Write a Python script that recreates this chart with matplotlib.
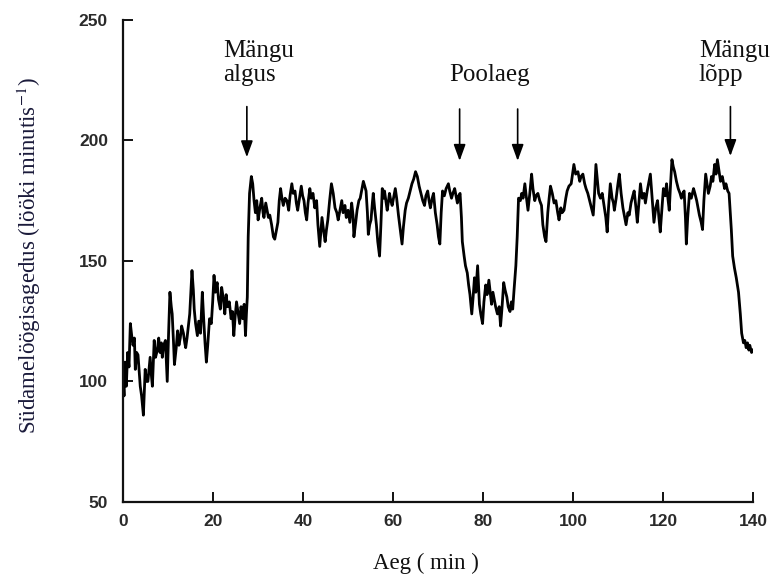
import matplotlib
matplotlib.use("Agg")
import matplotlib.pyplot as plt

# ---- data ----
time_min = [
    0.0, 0.2, 0.4, 0.7, 1.0, 1.3, 1.6, 1.9, 2.2, 2.5, 2.7, 3.0, 3.3, 3.6, 3.8, 4.1, 4.5, 4.7, 4.9, 5.2,
    5.5, 5.8, 6.0, 6.3, 6.5, 6.9, 7.2, 7.6, 7.9, 8.2, 8.5, 8.7, 9.0, 9.4, 9.6, 9.8, 10.1, 10.4, 10.7, 10.9,
    11.2, 11.4, 11.8, 12.1, 12.4, 12.7, 13.0, 13.4, 13.7, 13.9, 14.2, 14.5, 14.8, 15.0, 15.3, 15.6, 15.8, 16.1, 16.5, 16.8,
    17.2, 17.6, 17.9, 18.2, 18.5, 18.8, 19.2, 19.6, 19.9, 20.2, 20.5, 20.9, 21.2, 21.6, 21.9, 22.3, 22.6, 22.9, 23.2, 23.6,
    24.0, 24.3, 24.6, 24.9, 25.2, 25.6, 25.9, 26.2, 26.6, 26.9, 27.2, 27.4, 27.6,
    27.8, 28.1, 28.5, 28.8, 29.1, 29.4, 29.7, 30.0, 30.4, 30.8, 31.1, 31.3, 31.7, 31.9, 32.3, 32.6, 33.0, 33.4, 33.7, 34.0,
    34.4, 34.7, 35.0, 35.3, 35.6, 36.0, 36.4, 36.8, 37.1, 37.5, 37.8, 38.2, 38.5, 38.8, 39.2, 39.6, 39.9, 40.2, 40.5, 40.8,
    41.1, 41.5, 41.8, 42.2, 42.6, 43.0, 43.3, 43.7, 44.0, 44.2, 44.6, 44.9, 45.2, 45.5, 45.9, 46.3, 46.7, 47.1, 47.5, 47.8,
    48.2, 48.6, 48.9, 49.3, 49.6, 50.0, 50.4, 50.8, 51.1, 51.3, 51.7, 52.0, 52.4, 52.7, 53.1, 53.4, 53.7, 54.0, 54.3, 54.5,
    54.8, 55.1, 55.4, 55.6, 55.9, 56.3, 56.6, 57.0, 57.3, 57.6, 57.9, 58.1, 58.4, 58.7, 59.0, 59.2, 59.5, 59.8, 60.1, 60.5,
    60.8, 61.2, 61.6, 62.0, 62.3, 62.7, 63.0, 63.4, 63.8, 64.2, 64.6, 65.0, 65.4, 65.8, 66.2, 66.6, 67.0, 67.3, 67.7, 68.0,
    68.3, 68.7, 69.0, 69.4, 69.8, 70.1, 70.4, 70.7, 71.0, 71.4, 71.8, 72.3, 72.6, 73.0, 73.3, 73.7, 74.0, 74.3, 74.6, 74.9,
    75.2, 75.4, 75.8, 76.1, 76.5, 76.8, 77.1, 77.5, 77.8, 78.1, 78.4, 78.8, 79.2, 79.5, 79.9, 80.2, 80.6, 80.9, 81.3, 81.6,
    81.9, 82.2, 82.4, 82.8, 83.2, 83.6, 83.9, 84.2, 84.6, 84.9, 85.3, 85.6, 86.0, 86.3, 86.6, 86.9, 87.3, 87.6,
    87.9, 88.3, 88.6, 88.9, 89.3, 89.6, 90.0, 90.4, 90.8, 91.1, 91.5, 91.8, 92.2, 92.6, 93.0, 93.3, 93.7, 94.0, 94.4, 94.7,
    95.0, 95.4, 95.8, 96.2, 96.6, 96.9, 97.3, 97.6, 98.0, 98.4, 98.7, 99.1, 99.6, 99.9, 100.2, 100.6, 101.1, 101.5, 101.8, 102.2,
    102.6, 102.9, 103.3, 103.7, 104.1, 104.5, 104.8, 105.1, 105.4, 105.7, 106.1, 106.5, 106.9, 107.3, 107.6, 107.9, 108.3, 108.7, 109.0, 109.2,
    109.6, 110.0, 110.3, 110.7, 111.1, 111.5, 111.8, 112.2, 112.5, 112.9, 113.3, 113.6, 114.0, 114.3, 114.7, 115.0, 115.4, 115.8, 116.1, 116.5,
    116.9, 117.2, 117.6, 118.0, 118.4, 118.8, 119.1, 119.4, 119.8, 120.1, 120.5, 120.8, 121.1, 121.4, 121.7, 122.0, 122.3, 122.6, 123.0, 123.4,
    123.8, 124.1, 124.4, 124.7, 125.0, 125.2, 125.5, 125.9, 126.3, 126.8, 127.1, 127.5, 127.8, 128.1, 128.5, 128.8, 129.1, 129.5, 129.8, 130.1,
    130.5, 130.8, 131.1, 131.5, 131.8, 132.1, 132.5, 132.8, 133.2, 133.7, 134.0, 134.4, 134.7,
    134.9, 135.2, 135.5, 135.9, 136.3, 136.8, 137.2, 137.5, 137.9, 138.2, 138.5, 138.8, 139.1, 139.3, 139.7, 140.0,
]
heart_rate = [
    100, 94, 108, 98, 112, 106, 124, 119, 115, 118, 105, 112, 111, 103, 98, 94, 86, 95, 105, 100,
    100, 106, 110, 102, 98, 117, 110, 113, 118, 112, 116, 110, 115, 117, 108, 100, 120, 137, 131, 128,
    116, 107, 114, 121, 115, 118, 123, 120, 116, 114, 118, 123, 128, 135, 146, 138, 130, 124, 119, 125,
    120, 137, 126, 116, 108, 115, 126, 124, 133, 144, 137, 141, 134, 130, 139, 134, 128, 136, 131, 133,
    126, 129, 119, 127, 133, 128, 124, 131, 126, 132, 119, 128, 135,
    160, 178, 185, 182, 175, 170, 175, 167, 172, 176, 170, 168, 174, 172, 168, 169, 165, 160, 159, 162,
    166, 175, 180, 176, 173, 176, 175, 171, 177, 182, 178, 179, 174, 171, 176, 181, 177, 175, 170, 167,
    174, 180, 176, 178, 172, 175, 165, 156, 163, 168, 162, 158, 163, 167, 175, 182, 178, 172, 170, 167,
    171, 175, 170, 173, 168, 171, 166, 174, 169, 160, 166, 171, 175, 176, 180, 183, 181, 179, 170, 161,
    165, 167, 174, 178, 172, 165, 158, 152, 165, 180, 176, 179, 175, 171, 175, 178, 175, 173, 176, 180,
    176, 169, 163, 157, 164, 171, 174, 176, 179, 182, 184, 187, 185, 181, 178, 175, 173, 177, 179, 175,
    172, 176, 178, 170, 165, 160, 157, 170, 179, 177, 180, 182, 179, 176, 178, 180, 177, 174, 177, 178,
    168, 158, 152, 148, 145, 140, 136, 128, 135, 143, 137, 148, 132, 128, 124, 133, 140, 136, 142, 137,
    132, 137, 135, 131, 128, 131, 123, 130, 141, 138, 135, 131, 129, 133, 130, 138, 148, 160,
    176, 175, 178, 176, 182, 177, 171, 178, 186, 180, 175, 177, 178, 175, 173, 165, 160, 158, 170, 176,
    181, 178, 174, 175, 170, 167, 172, 170, 171, 176, 179, 181, 182, 186, 190, 186, 187, 183, 185, 186,
    182, 180, 178, 175, 172, 169, 178, 190, 184, 178, 176, 178, 173, 168, 162, 172, 182, 176, 174, 171,
    176, 182, 186, 178, 172, 168, 165, 170, 169, 174, 177, 179, 172, 166, 175, 182, 176, 178, 174, 179,
    183, 186, 176, 166, 172, 175, 168, 162, 172, 180, 177, 182, 176, 171, 182, 192, 189, 187, 183, 180,
    178, 176, 178, 179, 168, 157, 168, 178, 176, 180, 178, 175, 172, 169, 166, 163, 175, 186, 182, 178,
    181, 185, 183, 190, 186, 192, 187, 183, 185, 180, 182, 179, 178,
    172, 163, 152, 147, 143, 137, 128, 120, 116, 117, 114, 116, 113, 115, 112, 113,
]

event_labels = ["Mängu\nalgus", "Poolaeg", "Mängu\nlõpp"]
event_label_x = [22.3, 72.5, 128.0]
event_label_top = [241.5, 231.5, 241.5]
arrow_times = [27.5, 74.8, 87.7, 135.0]
arrow_tops = [214.0, 213.0, 213.0, 214.0]
arrow_tips = [193.0, 191.5, 191.5, 193.5]

x_ticks = [0, 20, 40, 60, 80, 100, 120, 140]
y_ticks = [50, 100, 150, 200, 250]

serif = ["Liberation Serif", "DejaVu Serif"]
plt.rcParams["mathtext.fontset"] = "stix"

fig = plt.figure(figsize=(7.77, 5.83), dpi=100)
ax = fig.add_axes([0.1585, 0.139, 0.8105, 0.827])

ax.plot(time_min, heart_rate, color="black", lw=2.0, solid_joinstyle="round")

ax.set_xlim(0, 140)
ax.set_ylim(50, 250)
ax.set_xticks(x_ticks)
ax.set_yticks(y_ticks)

for s in ["top", "right"]:
    ax.spines[s].set_visible(False)
for s in ["left", "bottom"]:
    ax.spines[s].set_linewidth(1.6)
    ax.spines[s].set_color("#111111")

ax.tick_params(axis="both", direction="in", length=7, width=1.4, color="#111111")
ax.tick_params(axis="x", pad=9)
ax.tick_params(axis="y", pad=11)
for lab in ax.get_xticklabels() + ax.get_yticklabels():
    lab.set_fontfamily(["Liberation Sans", "DejaVu Sans"])
    lab.set_fontweight("bold")
    lab.set_fontsize(12.5)
    lab.set_color("#2a2a2a")

ax.set_xlabel("Aeg ( min )", family=serif, fontsize=16.5, color="#111111")
ax.xaxis.label.set_verticalalignment("center")
ax.xaxis.set_label_coords(0.48, -0.127)
ax.set_ylabel("Südamelöögisagedus (lööki minutis$^{-1}$)", family=serif, fontsize=16.5,
              color="#1a1a3a")
ax.yaxis.set_label_coords(-0.128, 0.51)

for t, xx, top in zip(event_labels, event_label_x, event_label_top):
    ax.text(xx, top, t, family=serif, fontsize=18, va="top", ha="left",
            linespacing=1.12, color="#111111")

for t, y0, y1 in zip(arrow_times, arrow_tops, arrow_tips):
    ax.annotate("", xy=(t, y1), xytext=(t, y0),
                arrowprops=dict(arrowstyle="-|>,head_length=0.55,head_width=0.2",
                                color="black", lw=1.2,
                                mutation_scale=18, shrinkA=0, shrinkB=0))

fig.savefig("out.png", dpi=100)
